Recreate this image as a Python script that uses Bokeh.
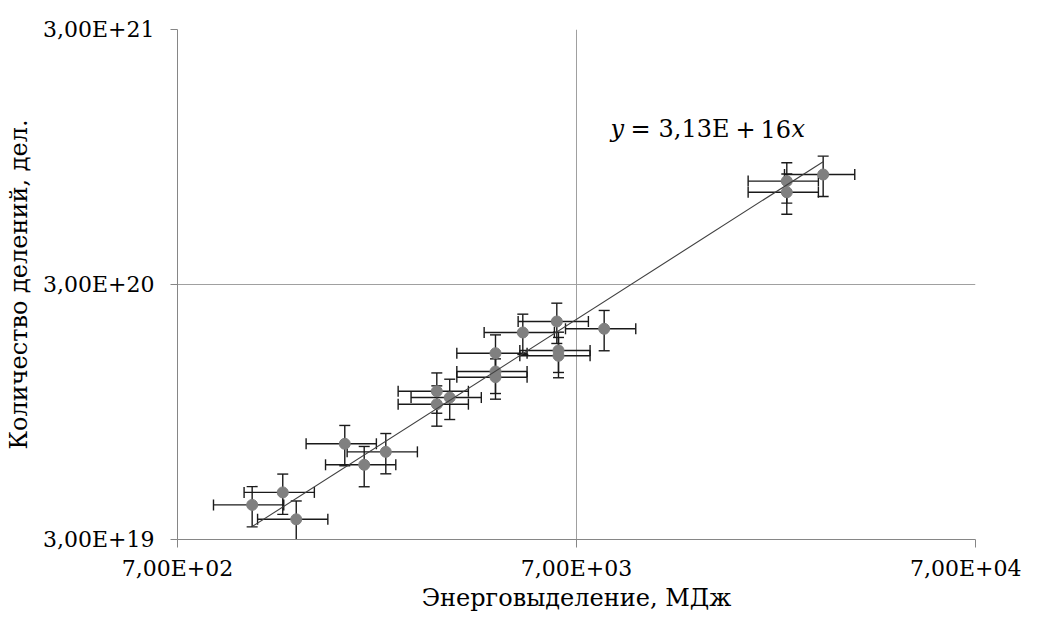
from bokeh.plotting import figure
from bokeh.models import (ColumnDataSource, Range1d, FixedTicker, Whisker, TeeHead, Label)
from bokeh.embed import file_html
from bokeh.resources import INLINE

# ---- data (energy, MJ ; number of fissions) ----
energy = [1077, 1285, 1389, 1838, 2056, 2329, 3126, 3126, 3368, 4386,
          4386, 4386, 5135, 6248, 6309, 6309, 8212, 23560, 23560, 29060]
fissions = [4.10e19, 4.59e19, 3.60e19, 7.12e19, 5.89e19, 6.62e19, 1.144e20, 1.018e20, 1.081e20, 1.613e20,
            1.367e20, 1.299e20, 1.945e20, 2.148e20, 1.653e20, 1.576e20, 2.011e20, 7.63e20, 6.90e20, 8.10e20]
x_err_frac = 0.20
y_err_frac = 0.18
slope = 3.13e16

x_ticks = [700, 7000, 70000]
x_tick_labels = ["7,00E+02", "7,00E+03", "7,00E+04"]
y_ticks = [3e19, 3e20, 3e21]
y_tick_labels = ["3,00E+19", "3,00E+20", "3,00E+21"]
x_title = "Энерговыделение, МДж"
y_title = "Количество делений, дел."

FONT = "DejaVu Serif"
TICK_FS = "22px"
TITLE_FS = "24px"

src = ColumnDataSource(dict(
    x=energy, y=fissions,
    xl=[v * (1 - x_err_frac) for v in energy], xu=[v * (1 + x_err_frac) for v in energy],
    yl=[v * (1 - y_err_frac) for v in fissions], yu=[v * (1 + y_err_frac) for v in fissions],
))

p = figure(x_axis_type="log", y_axis_type="log",
           x_range=Range1d(x_ticks[0], x_ticks[-1]), y_range=Range1d(y_ticks[0], y_ticks[-1]),
           frame_width=798, frame_height=510,
           min_border_left=177, min_border_right=46, min_border_top=29, min_border_bottom=66,
           output_backend="svg", toolbar_location=None)
p.outline_line_color = None
p.background_fill_color = "white"
p.border_fill_color = "white"

for ax, ticks, labels in ((p.xaxis[0], x_ticks, x_tick_labels), (p.yaxis[0], y_ticks, y_tick_labels)):
    ax.ticker = FixedTicker(ticks=ticks, minor_ticks=[])
    ax.major_label_overrides = {t: l for t, l in zip(ticks, labels)}
    ax.major_label_text_font = FONT
    ax.major_label_text_font_size = TICK_FS
    ax.major_label_text_color = "black"
    ax.axis_label_text_font = FONT
    ax.axis_label_text_font_size = TITLE_FS
    ax.axis_label_text_font_style = "normal"
    ax.axis_label_text_color = "black"
    ax.axis_line_color = "#868686"
    ax.major_tick_line_color = "#868686"
    ax.major_tick_in = 0
    ax.minor_tick_line_color = None

p.xaxis.axis_label = x_title
p.yaxis.axis_label = y_title
p.xaxis.major_tick_out = 8
p.yaxis.major_tick_out = 7
p.xaxis.major_label_standoff = 8
p.yaxis.major_label_standoff = 16
p.xaxis.axis_label_standoff = 0
p.yaxis.axis_label_standoff = 7

for g in (p.xgrid[0], p.ygrid[0]):
    g.grid_line_color = "#A0A0A0"
    g.grid_line_width = 1
p.xgrid.ticker = FixedTicker(ticks=x_ticks)
p.ygrid.ticker = FixedTicker(ticks=y_ticks)

# error bars
for dim, lo, hi, base in (("width", "xl", "xu", "y"), ("height", "yl", "yu", "x")):
    w = Whisker(source=src, base=base, lower=lo, upper=hi, dimension=dim,
                line_color="#1a1a1a", line_width=1.4,
                upper_head=TeeHead(size=11, line_color="#1a1a1a", line_width=1.4),
                lower_head=TeeHead(size=11, line_color="#1a1a1a", line_width=1.4))
    p.add_layout(w)

p.scatter("x", "y", source=src, size=11, fill_color="#808080", line_color="#808080")

# trend line y = slope * x over the data span
xmin, xmax = min(energy), max(energy)
p.line([xmin, xmax], [slope * xmin, slope * xmax], line_color="#404040", line_width=1.1)

# equation text
eq_x, eq_y = 8519, 1.227e21
for txt, off, style in (("y", 0, "italic"), ("=", 20, "normal"), ("3,13E", 48, "normal"),
                        ("+", 125, "normal"), ("16", 150, "normal"), ("x", 181, "italic")):
    p.add_layout(Label(x=eq_x, y=eq_y, x_offset=off, text=txt, text_font=FONT, text_font_size="24px",
                       text_font_style=style, text_baseline="alphabetic", text_color="black"))

open("out.html", "w").write(file_html(p, INLINE))
